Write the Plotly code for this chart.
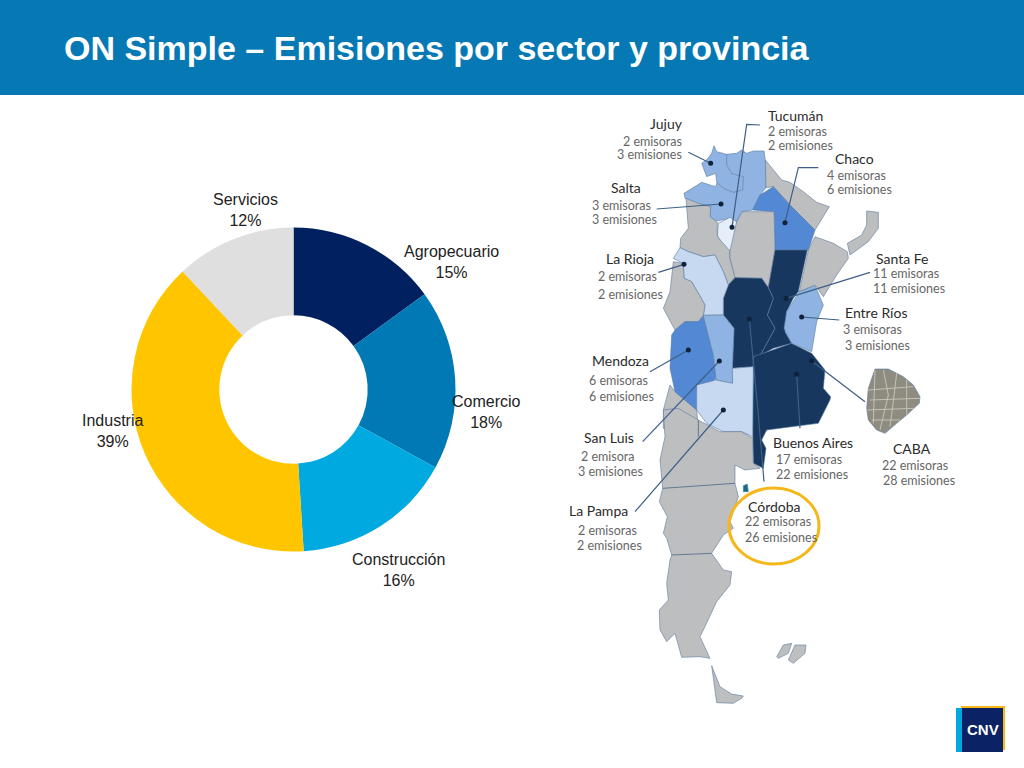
import plotly.graph_objects as go

W, H = 1024, 768

# Donut data
sectors = ["Agropecuario", "Comercio", "Construcción", "Industria", "Servicios"]
shares = [15, 18, 16, 39, 12]
sector_colors = ["#002060", "#0079B5", "#00A9E0", "#FFC600", "#DFDFDF"]
sector_label_x = [451, 486, 398, 112, 245]
sector_label_y = [262, 412, 570, 431, 210]

# Map callouts: name, stations, issues
provinces = ["Jujuy", "Tucumán", "Chaco", "Salta", "La Rioja", "Santa Fe", "Entre Ríos",
             "Mendoza", "San Luis", "La Pampa", "Buenos Aires", "CABA", "Córdoba"]
emisoras = ["2 emisoras", "2 emisoras", "4 emisoras", "3 emisoras", "2 emisoras", "11 emisoras",
            "3 emisoras", "6 emisoras", "2 emisora", "2 emisoras", "17 emisoras", "22 emisoras", "22 emisoras"]
emisiones = ["3 emisiones", "2 emisiones", "6 emisiones", "3 emisiones", "2 emisiones", "11 emisiones",
             "3 emisiones", "6 emisiones", "3 emisiones", "2 emisiones", "22 emisiones", "28 emisiones", "26 emisiones"]
name_pos = [(270, 85), (623, 62), (825, 190), (152, 278), (138, 492), (947, 490), (856, 652),
            (96, 798), (72, 1027), (28, 1247), (640, 1042), (1000, 1060), (565, 1233)]
line2_pos = [(188, 138), (623, 110), (800, 242), (97, 332), (113, 545), (940, 537), (850, 703),
             (87, 855), (62, 1085), (55, 1305), (648, 1092), (967, 1110), (555, 1280)]
line3_pos = [(172, 178), (623, 150), (800, 282), (97, 375), (113, 598), (940, 582), (855, 750),
             (87, 905), (55, 1130), (50, 1350), (648, 1138), (968, 1157), (555, 1327)]

GREY = "#BDBEC0"; NAVY = "#17375E"; MID = "#5288D4"; SOFT = "#8FB4E3"; PALE = "#C6D9F1"; ICE = "#E6EEF9"
regions = [
    (SOFT, [(500,178),(530,175),(545,165),(560,175),(580,168),(612,168),(618,210),(618,278),(600,300),(578,345),(545,350),(530,380),(510,370),(470,378),(450,365),(452,335),(415,325),(375,310),(372,295),(425,262),(467,275)]),
    (SOFT, [(462,152),(470,170),(500,178),(500,210),(515,235),(550,245),(548,285),(520,292),(490,280),(470,262),(467,235),(440,245),(425,205),(440,195),(455,175)]),
    (ICE, [(475,385),(510,367),(530,380),(525,440),(510,468),(490,455),(472,420)]),
    (GREY, [(378,310),(415,325),(452,335),(450,365),(472,382),(472,425),(510,468),(510,490),(525,545),(505,570),(490,530),(465,480),(430,485),(385,470),(360,458),(362,430),(385,400)]),
    (GREY, [(616,195),(665,255),(690,262),(730,290),(770,322),(808,335),(765,405),(690,330),(640,275),(618,278)]),
    (MID, [(640,275),(690,330),(765,405),(745,465),(645,465),(642,350),(578,345),(600,300)]),
    (GREY, [(548,350),(642,350),(645,465),(625,578),(605,550),(525,548),(510,490),(510,468),(530,380)]),
    (GREY, [(920,348),(955,352),(955,400),(925,440),(870,480),(862,445),(905,420),(920,390)]),
    (GREY, [(765,425),(820,445),(862,470),(865,490),(830,540),(790,605),(765,570),(718,590),(745,465)]),
    (NAVY, [(645,465),(742,465),(715,590),(700,610),(680,650),(675,710),(695,745),(640,760),(600,782),(645,700),(622,660),(640,610),(625,578)]),
    (NAVY, [(525,548),(605,550),(625,578),(640,610),(622,660),(645,700),(600,782),(580,785),(580,815),(517,820),(522,700),(490,660),(490,610),(505,570)]),
    (NAVY, [(580,785),(695,745),(755,775),(795,825),(790,880),(812,905),(810,915),(775,985),(620,1005),(605,1035),(618,1060),(610,1120),(580,1105),(578,1000)]),
    (SOFT, [(718,590),(765,572),(790,630),(770,680),(755,770),(695,745),(672,700),(680,650)]),
    (PALE, [(360,458),(385,470),(430,485),(465,480),(490,530),(505,570),(490,610),(490,660),(430,660),(435,630),(395,560),(372,550),(370,505),(340,490)]),
    (GREY, [(340,500),(370,505),(372,550),(395,560),(435,630),(430,662),(415,680),(375,680),(345,705),(310,640),(330,590)]),
    (GREY, [(330,870),(345,890),(410,945),(415,1000),(380,1020),(310,1000),(310,945)]),
    (MID, [(345,705),(375,680),(415,680),(430,662),(460,780),(470,850),(410,890),(410,945),(345,890),(330,820),(335,720)]),
    (SOFT, [(430,662),(490,660),(522,700),(517,820),(518,865),(468,855),(460,780)]),
    (PALE, [(410,870),(468,855),(518,865),(517,820),(580,815),(578,1025),(545,1010),(490,1010),(440,985),(410,945)]),
    (GREY, [(310,945),(355,940),(415,975),(480,1010),(545,1010),(578,1030),(580,1105),(600,1120),(555,1125),(525,1110),(525,1165),(535,1205),(510,1280),(520,1300),(490,1320),(455,1375),(490,1425),(515,1430),(510,1470),(470,1520),(430,1605),(420,1625),(450,1690),(420,1685),(365,1687),(345,1615),(320,1640),(300,1605),(298,1545),(325,1515),(320,1465),(330,1395),(335,1380),(320,1330),(310,1315),(322,1265),(298,1220),(308,1180),(300,1095),(315,1025)]),
    (GREY, [(455,1712),(480,1775),(515,1797),(550,1803),(545,1810),(520,1825),(470,1823)]),
    (GREY, [(650,1685),(670,1650),(695,1645),(685,1675),(655,1690)]),
    (GREY, [(685,1695),(705,1650),(738,1650),(735,1675),(700,1705)]),
    ("#8E8C80", [(945,822),(985,822),(1030,845),(1060,870),(1080,905),(1078,925),(1040,960),(1010,985),(975,1015),(950,1005),(925,975),(920,940),(925,880)]),
    ("#0F6E84", [(550,1172),(562,1167),(565,1190),(550,1190)]),
]
borders = [
    ("#55708F", [(308,1180),(525,1165)]), ("#55708F", [(335,1380),(455,1375)]), ("#55708F", [(415,975),(415,1025)]),
    ("#C9C6BA", [(970,825),(985,900),(960,1005)]), ("#C9C6BA", [(1010,835),(1000,920),(990,995)]),
    ("#C9C6BA", [(925,885),(1060,875)]), ("#C9C6BA", [(922,945),(1065,940)]), ("#C9C6BA", [(945,825),(940,985)]),
    ("#C9C6BA", [(1040,855),(1040,960)]), ("#C9C6BA", [(930,915),(1080,910)]), ("#C9C6BA", [(935,975),(1020,975)]),
]
callouts = [
    [(385,172),(452,205)], [(600,90),(560,88),(516,397)], [(775,218),(715,218),(675,383)],
    [(290,342),(483,327)], [(295,532),(372,508)], [(930,532),(678,610)], [(838,675),(725,666)],
    [(270,830),(385,765)], [(915,920),(755,798)], [(248,1040),(478,798)], [(225,1250),(490,945)],
    [(612,1160),(595,960),(568,672)], [(720,1000),(710,838)],
]


def px(zx, zy):
    return (560 + zx / 3) / W, 1 - (95 + zy / 3) / H


def path(points, close=True):
    parts = []
    for i, (a, b) in enumerate(points):
        x, y = px(a, b)
        parts.append(f"{'M' if i == 0 else 'L'}{x:.5f},{y:.5f}")
    return " ".join(parts) + (" Z" if close else "")


shapes = [dict(type="rect", xref="paper", yref="paper", x0=0, x1=1, y0=1 - 95 / H, y1=1,
               fillcolor="#0679B5", line_width=0, layer="below")]
for fill, pts in regions:
    shapes.append(dict(type="path", xref="paper", yref="paper", path=path(pts), fillcolor=fill,
                       line=dict(color="#5C7A9E", width=0.6), layer="below"))
for col, pts in borders:
    shapes.append(dict(type="path", xref="paper", yref="paper", path=path(pts, False),
                       line=dict(color=col, width=0.9), layer="below"))
for pts in callouts:
    shapes.append(dict(type="path", xref="paper", yref="paper", path=path(pts, False),
                       line=dict(color="#3E5F86", width=1.2), layer="below"))
    a, b = pts[-1]
    x, y = px(a, b)
    shapes.append(dict(type="circle", xref="paper", yref="paper", x0=x - 2.5 / W, x1=x + 2.5 / W,
                       y0=y - 2.5 / H, y1=y + 2.5 / H, fillcolor="#0F2238", line_width=0))

# Highlight ellipse around Córdoba
cx, cy = px(642, 1293)
shapes.append(dict(type="circle", xref="paper", yref="paper", x0=cx - 45 / W, x1=cx + 45 / W,
                   y0=cy - 38 / H, y1=cy + 38 / H, line=dict(color="#F5B81C", width=3)))

# Logo
for x0, x1, y0, y1, c in [(961, 1005, 706, 750, "#FDB913"), (956, 1001, 708, 752, "#00A9E0"), (962, 1003, 708, 752, "#0B2265")]:
    shapes.append(dict(type="rect", xref="paper", yref="paper", x0=x0 / W, x1=x1 / W,
                       y0=1 - y1 / H, y1=1 - y0 / H, fillcolor=c, line_width=0))

annotations = [dict(text="<b>ON Simple – Emisiones por sector y provincia</b>", xref="paper", yref="paper",
                    x=62 / W, y=1 - 48 / H, xanchor="left", yanchor="middle", showarrow=False,
                    font=dict(family="Liberation Sans", size=34, color="white")),
               dict(text="<b>CNV</b>", xref="paper", yref="paper", x=982.5 / W, y=1 - 729 / H, showarrow=False,
                    xanchor="center", yanchor="middle",
                    font=dict(family="Liberation Sans", size=15, color="white"))]

for name, share, x, y in zip(sectors, shares, sector_label_x, sector_label_y):
    annotations.append(dict(text=f"{name}<br>{share}%", xref="paper", yref="paper", x=x / W, y=1 - y / H,
                            showarrow=False, align="center", xanchor="center", yanchor="middle",
                            font=dict(family="Liberation Sans", size=16, color="#222222")))

for pos, labels, size, color in [(name_pos, provinces, 14, "#2B2B2B"),
                                 (line2_pos, emisoras, 12.5, "#666666"),
                                 (line3_pos, emisiones, 12.5, "#666666")]:
    for (a, b), text in zip(pos, labels):
        x, y = px(a, b)
        annotations.append(dict(text=text, xref="paper", yref="paper", x=x, y=y, xanchor="left",
                                yanchor="middle", showarrow=False, xshift=-2,
                                font=dict(family="Lato", size=size, color=color)))

R = 162
fig = go.Figure(go.Pie(
    labels=sectors, values=shares, sort=False, direction="clockwise", rotation=0, hole=0.458,
    marker=dict(colors=sector_colors, line=dict(width=0)), textinfo="none",
    domain=dict(x=[(293.5 - R) / W, (293.5 + R) / W], y=[1 - (389.5 + R) / H, 1 - (389.5 - R) / H]),
    showlegend=False, hoverinfo="label+percent"))
fig.update_layout(width=W, height=H, margin=dict(l=0, r=0, t=0, b=0), paper_bgcolor="white",
                  shapes=shapes, annotations=annotations)
fig.write_html("out.html", config=dict(displayModeBar=False), post_script="document.body.style.margin='0';")
